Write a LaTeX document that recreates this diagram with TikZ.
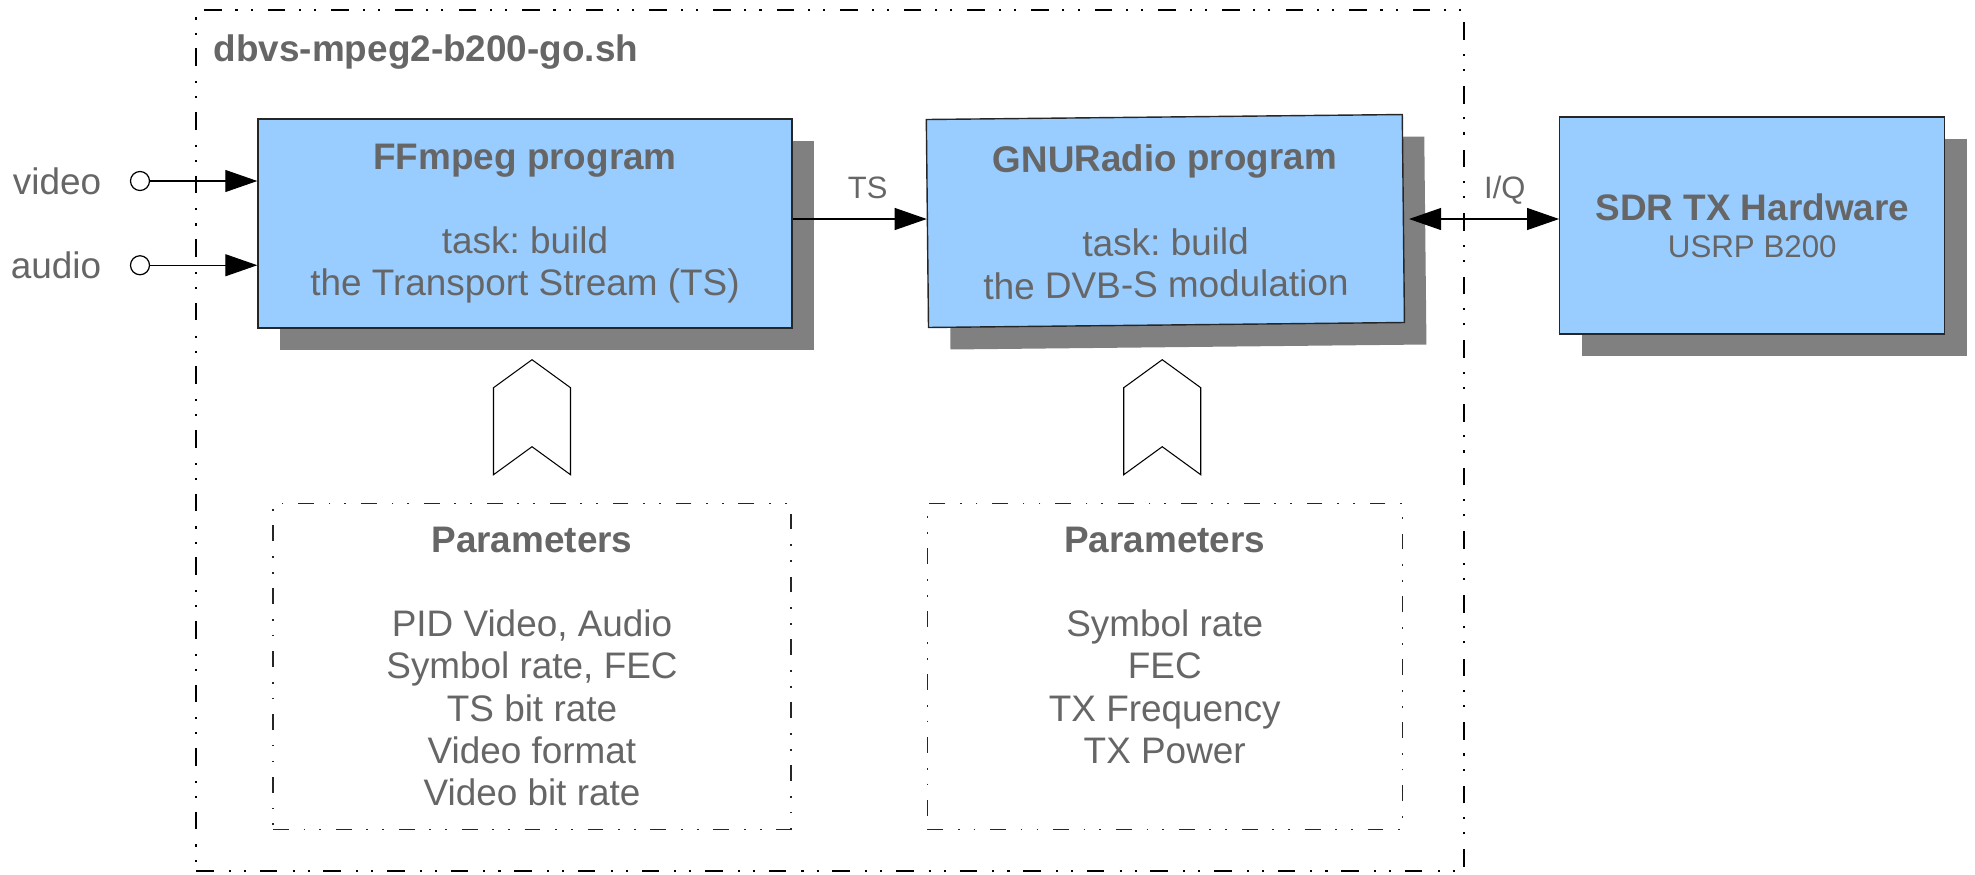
\documentclass[tikz,border=0pt]{standalone}
\usepackage{fontspec}
\setmainfont{Liberation Sans}
\usepackage{tikz}
\usetikzlibrary{arrows.meta,positioning,calc,shadows}
\frenchspacing

\definecolor{boxblue}{RGB}{153,204,255}
\definecolor{shadegray}{RGB}{128,128,128}
\definecolor{textgray}{RGB}{102,102,102}

\begin{document}
\begin{tikzpicture}[font=\fontsize{10.5}{12}\selectfont,text=textgray,
        prog/.style={draw=black!85,line width=0.4pt,fill=boxblue,align=center,
            drop shadow={fill=shadegray,opacity=1,shadow xshift=0.22cm,shadow yshift=-0.22cm}},
        parambox/.style={draw=black!85,line width=0.35pt,
            dash pattern=on 4.5pt off 4.2pt on 0.5pt off 4pt on 0.5pt off 4.2pt,
            minimum height=3.26cm,inner sep=0},
        paramtext/.style={align=center,inner sep=0},
        port/.style={draw=black,fill=white,circle,line width=0.35pt,minimum size=0.19cm,inner sep=0},
        flow/.style={draw=black,line width=0.3pt,-{Triangle[length=0.32cm,width=0.22cm]}},
        link/.style={flow,{Triangle[length=0.32cm,width=0.22cm]}-{Triangle[length=0.32cm,width=0.22cm]}},
        lbl/.style={font=\fontsize{8.8}{10.5}\selectfont,inner sep=0,text depth=0pt},
        chev/.style={draw=black,line width=0.3pt,fill=white}]
        \useasboundingbox (0,0) rectangle (19.75,-8.74);

        % Script frame
        \node[draw,
        line width=0.7pt,
        dash pattern=on 5pt off 4.3pt on 0.6pt off 3.7pt on 0.6pt off 3.9pt,
        minimum width=12.68cm,
        minimum height=8.61cm,
        inner sep=0,
        anchor=north west] (script) at (1.95,-0.09) {};

        \node[anchor=base west,
        inner sep=0,
        font=\fontsize{10.5}{12}\selectfont\bfseries] (title)
        at ($(script.north west)+(0.18,-0.52)$) {dbvs-mpeg2-b200-go.sh};

        % Programs
        \node[prog,
        minimum width=5.34cm,
        minimum height=2.09cm] (ffmpeg) at (5.25,-2.235)
        {\textbf{FFmpeg program}\\[12pt] task: build\\ the Transport Stream (TS)};

        \node[prog,
        rotate=0.6,
        right=1.34cm of ffmpeg,
        minimum width=4.76cm,
        minimum height=2.08cm] (gnuradio)
        {\textbf{GNURadio program}\\[12pt] task: build\\ the DVB-S modulation};

        % Hardware
        \node[prog,
        right=1.55cm of gnuradio,
        yshift=-0.07cm,
        minimum width=3.85cm,
        minimum height=2.17cm] (sdr)
        {\textbf{SDR TX Hardware}\\[-1.5pt]{\fontsize{8.9}{10.5}\selectfont USRP B200}};

        % Parameters
        \node[parambox,
        below=1.74cm of ffmpeg,
        xshift=0.07cm,
        minimum width=5.18cm] (ffpar) {};

        \node[parambox,
        right=1.35cm of ffpar,
        minimum width=4.75cm] (gnupar) {};

        \node[paramtext,below=0.235cm of ffpar.north] (fftext)
        {\textbf{Parameters}\\[12pt] PID Video, Audio\\ Symbol rate, FEC\\ TS bit rate\\ Video format\\ Video bit rate};

        \node[paramtext,below=0.235cm of gnupar.north] (gnutext)
        {\textbf{Parameters}\\[12pt] Symbol rate\\ FEC\\ TX Frequency\\ TX Power};

        \draw[chev] ($(ffpar.north)+(-0.385,0.28)$) -- ++(0.385,0.28) -- ++(0.385,-0.28)
        -- ++(0,0.87) -- ++(-0.385,0.28) -- ++(-0.385,-0.28) -- cycle;
        \draw[chev] ($(gnupar.north)+(-0.41,0.28)$) -- ++(0.385,0.28) -- ++(0.385,-0.28)
        -- ++(0,0.87) -- ++(-0.385,0.28) -- ++(-0.385,-0.28) -- cycle;

        % Inputs
        \node[port] (vidin) at (1.40,-1.81) {};
        \node[port,below=0.64cm of vidin] (audin) {};
        \node[left=0.28cm of vidin,inner sep=0] (vidlbl) {video};
        \node[left=0.28cm of audin,inner sep=0] (audlbl) {audio};

        % Arrows
        \coordinate (bus) at (0,-2.19);
        \draw[flow] (vidin) -- (vidin -| ffmpeg.west);
        \draw[flow] (audin) -- (audin -| ffmpeg.west);
        \draw[flow] (ffmpeg.east |- bus) -- (gnuradio.west |- bus)
        node[lbl,pos=0.56,above=0.2cm]{TS};
        \draw[link,shorten <=0.05cm] (gnuradio.east |- bus) -- (sdr.west |- bus)
        node[lbl,pos=0.65,above=0.2cm]{I/Q};
    \end{tikzpicture}
\end{document}
